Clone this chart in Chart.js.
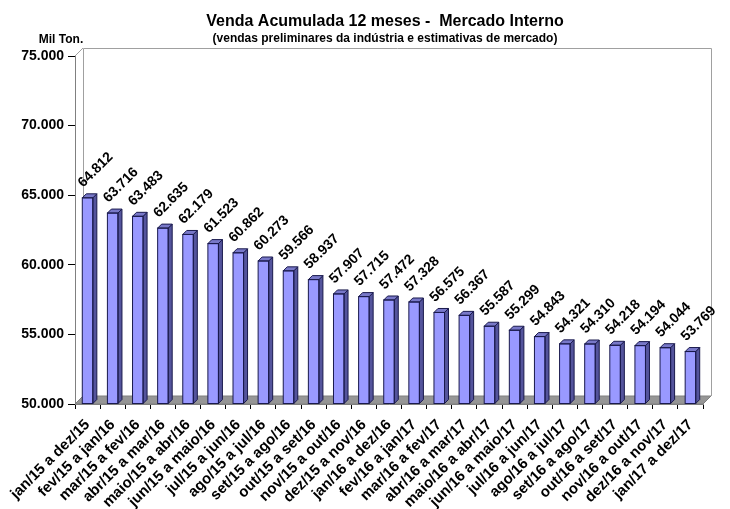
<!DOCTYPE html>
<html>
<head>
<meta charset="utf-8">
<script src="https://cdn.jsdelivr.net/npm/chart.js@4/dist/chart.umd.min.js"></script>
<style>
html,body{margin:0;padding:0;background:#fff;}
#wrap{width:730px;height:509px;position:relative;}
</style>
</head>
<body>
<div id="wrap"><canvas id="c" width="730" height="509"></canvas></div>
<script>
const categories = [
  "jan/15 a dez/15","fev/15 a jan/16","mar/15 a fev/16","abr/15 a mar/16","maio/15 a abr/16",
  "jun/15 a maio/16","jul/15 a jun/16","ago/15 a jul/16","set/15 a ago/16","out/15 a set/16",
  "nov/15 a out/16","dez/15 a nov/16","jan/16 a dez/16","fev/16 a jan/17","mar/16 a fev/17",
  "abr/16 a mar/17","maio/16 a abr/17","jun/16 a maio/17","jul/16 a jun/17","ago/16 a jul/17",
  "set/16 a ago/17","out/16 a set/17","nov/16 a out/17","dez/16 a nov/17","jan/17 a dez/17"
];
const vendas = [
  64812,63716,63483,62635,62179,61523,60862,60273,59566,58937,
  57907,57715,57472,57328,56575,56367,55587,55299,54843,54321,
  54310,54218,54194,54044,53769
];
const yTicks = [50000,55000,60000,65000,70000,75000];
const titleText = "Venda Acumulada 12 meses -  Mercado Interno";
const subtitleText = "(vendas preliminares da indústria e estimativas de mercado)";
const unitText = "Mil Ton.";

function fmt(v){
  const s = Math.round(v).toString();
  return s.replace(/\B(?=(\d{3})+(?!\d))/g, ".");
}

const FONT = "'Liberation Sans', Arial, sans-serif";
const DEPTH = 8;

const threeD = {
  id: 'threeD',
  beforeDatasetsDraw(chart){
    const ctx = chart.ctx, a = chart.chartArea;
    ctx.save();
    ctx.strokeStyle = '#a0a0a0';
    ctx.lineWidth = 1;
    ctx.beginPath();
    ctx.moveTo(a.left + DEPTH + 0.5, a.bottom - DEPTH);
    ctx.lineTo(a.left + DEPTH + 0.5, a.top - DEPTH + 0.5);
    ctx.lineTo(a.right + DEPTH + 0.5, a.top - DEPTH + 0.5);
    ctx.lineTo(a.right + DEPTH + 0.5, a.bottom - DEPTH);
    ctx.stroke();
    ctx.beginPath();
    ctx.moveTo(a.left, a.top);
    ctx.lineTo(a.left + DEPTH, a.top - DEPTH);
    ctx.stroke();
    ctx.fillStyle = '#969696';
    ctx.strokeStyle = '#808080';
    ctx.beginPath();
    ctx.moveTo(a.left, a.bottom);
    ctx.lineTo(a.left + DEPTH, a.bottom - DEPTH);
    ctx.lineTo(a.right + DEPTH, a.bottom - DEPTH);
    ctx.lineTo(a.right, a.bottom);
    ctx.closePath();
    ctx.fill();
    ctx.stroke();
    ctx.restore();
  },
  afterDatasetsDraw(chart){
    const ctx = chart.ctx;
    const meta = chart.getDatasetMeta(0);
    const d = 4;
    ctx.save();
    ctx.lineWidth = 1;
    ctx.strokeStyle = '#1a1a4d';
    meta.data.forEach((bar, i) => {
      const p = bar.getProps(['x','y','base','width'], true);
      const l = p.x - p.width/2, r = p.x + p.width/2, t = p.y, b = Math.min(p.base, chart.chartArea.bottom);
      ctx.fillStyle = '#54549c';
      ctx.beginPath();
      ctx.moveTo(r, t); ctx.lineTo(r + d, t - d); ctx.lineTo(r + d, b - d); ctx.lineTo(r, b);
      ctx.closePath(); ctx.fill(); ctx.stroke();
      ctx.fillStyle = '#7878c8';
      ctx.beginPath();
      ctx.moveTo(l, t); ctx.lineTo(l + d, t - d); ctx.lineTo(r + d, t - d); ctx.lineTo(r, t);
      ctx.closePath(); ctx.fill(); ctx.stroke();
      ctx.strokeRect(l, t, p.width, b - t);
      ctx.save();
      ctx.fillStyle = '#000';
      ctx.font = "bold 14px " + FONT;
      ctx.textAlign = 'left';
      ctx.textBaseline = 'alphabetic';
      ctx.translate(l + 1, t - 10);
      ctx.rotate(-Math.PI/4);
      ctx.fillText(fmt(vendas[i]), 0, 0);
      ctx.restore();
    });
    ctx.restore();
  },
  afterDraw(chart){
    const ctx = chart.ctx, a = chart.chartArea;
    ctx.save();
    ctx.fillStyle = '#000';
    ctx.textAlign = 'center';
    ctx.textBaseline = 'alphabetic';
    const cx = (a.left + a.right + DEPTH)/2 - 8;
    ctx.font = "bold 16px " + FONT;
    ctx.fillText(titleText, cx, 26);
    ctx.font = "bold 12px " + FONT;
    ctx.fillText(subtitleText, cx, 42);
    ctx.font = "bold 12px " + FONT;
    ctx.fillText(unitText, 61, 43);
    ctx.restore();
  }
};

new Chart(document.getElementById('c'), {
  type: 'bar',
  data: {
    labels: categories,
    datasets: [{
      data: vendas,
      base: 50000,
      backgroundColor: '#9999ff',
      borderWidth: 0,
      barPercentage: 0.42,
      categoryPercentage: 1.0
    }]
  },
  options: {
    responsive: false,
    animation: false,
    events: [],
    layout: { padding: { top: 56, right: 27, left: 0, bottom: 0 } },
    plugins: { legend: { display: false }, title: { display: false }, tooltip: { enabled: false } },
    scales: {
      x: {
        offset: true,
        grid: { display: true, offset: true, drawOnChartArea: false, tickLength: 5, tickColor: '#000', color: '#000' },
        border: { display: true, color: '#808080' },
        ticks: {
          autoSkip: false, maxRotation: 45, minRotation: 45, padding: 7,
          color: '#000', font: { family: FONT, size: 15, weight: 'bold' }
        },
        afterFit(s){ s.height = 105; }
      },
      y: {
        min: 50000, max: 75000,
        afterBuildTicks(s){ s.ticks = yTicks.map(v => ({ value: v })); },
        grid: { display: true, drawOnChartArea: false, tickLength: 7, tickColor: '#000', color: '#000' },
        border: { display: true, color: '#808080' },
        ticks: {
          padding: 4, color: '#000',
          font: { family: FONT, size: 14, weight: 'bold' },
          callback: v => fmt(v)
        },
        afterFit(s){ s.width = 75; }
      }
    }
  },
  plugins: [threeD]
});
</script>
</body>
</html>
